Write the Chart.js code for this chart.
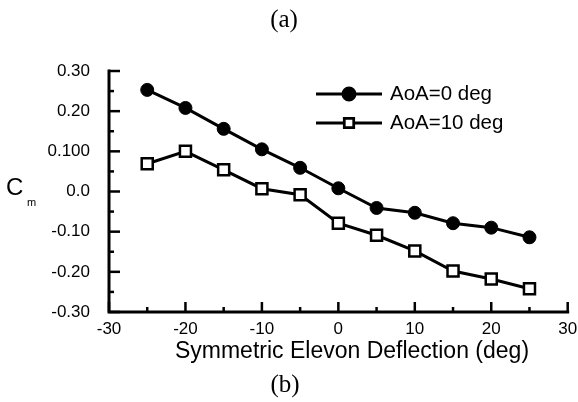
<!DOCTYPE html>
<html><head><meta charset="utf-8">
<script src="https://cdn.jsdelivr.net/npm/chart.js@4/dist/chart.umd.min.js"></script>
<style>html,body{margin:0;padding:0;background:#fff}</style>
</head><body>
<canvas id="c" width="578" height="402"></canvas>
<script>
const deflection = [-25, -20, -15, -10, -5, 0, 5, 10, 15, 20, 25];
const cmAoA0 = [0.253, 0.208, 0.156, 0.105, 0.059, 0.008, -0.041, -0.053, -0.079, -0.090, -0.114];
const cmAoA10 = [0.069, 0.100, 0.054, 0.007, -0.008, -0.079, -0.109, -0.148, -0.198, -0.218, -0.242];
const seriesNames = ['AoA=0 deg', 'AoA=10 deg'];
const xTickValues = [-30, -20, -10, 0, 10, 20, 30];
const xTickLabels = ['-30', '-20', '-10', '0', '10', '20', '30'];
const yTickValues = [0.30, 0.20, 0.10, 0.0, -0.10, -0.20, -0.30];
const yTickLabels = ['0.30', '0.20', '0.100', '0.0', '-0.10', '-0.20', '-0.30'];
const xTitle = 'Symmetric Elevon Deflection (deg)';
const topCaption = '(a)';
const bottomCaption = '(b)';

const SANS = '"Liberation Sans", Arial, sans-serif';
const SERIF = '"Liberation Serif", "Times New Roman", serif';

const decor = {
  id: 'decor',
  afterDraw(chart) {
    const ctx = chart.ctx, xs = chart.scales.x, ys = chart.scales.y;
    const a = chart.chartArea;
    ctx.save();
    ctx.strokeStyle = '#000'; ctx.fillStyle = '#000';
    ctx.lineWidth = 3; ctx.lineCap = 'square';
    ctx.beginPath();
    ctx.moveTo(a.left, a.top); ctx.lineTo(a.left, a.bottom); ctx.lineTo(a.right, a.bottom);
    ctx.stroke();
    ctx.lineCap = 'butt';
    for (let v = -30; v <= 30; v += 5) {
      const px = xs.getPixelForValue(v);
      const major = v % 10 === 0;
      ctx.lineWidth = 2.5;
      ctx.beginPath(); ctx.moveTo(px, a.bottom); ctx.lineTo(px, a.bottom - (major ? 10 : 5)); ctx.stroke();
    }
    for (let i = -6; i <= 6; i++) {
      const v = i * 0.05;
      const py = ys.getPixelForValue(v);
      const major = i % 2 === 0;
      ctx.lineWidth = 2.5;
      ctx.beginPath(); ctx.moveTo(a.left, py); ctx.lineTo(a.left + (major ? 11 : 5), py); ctx.stroke();
    }
    ctx.font = '17px ' + SANS;
    ctx.textAlign = 'center'; ctx.textBaseline = 'middle';
    xTickValues.forEach((v, i) => ctx.fillText(xTickLabels[i], xs.getPixelForValue(v), a.bottom + 17));
    ctx.textAlign = 'right';
    yTickValues.forEach((v, i) => ctx.fillText(yTickLabels[i], a.left - 19, ys.getPixelForValue(v)));
    ctx.textAlign = 'center'; ctx.textBaseline = 'alphabetic';
    ctx.font = '23px ' + SANS;
    ctx.fillText(xTitle, 352, 358);
    ctx.textAlign = 'left'; ctx.textBaseline = 'middle';
    ctx.font = '24px ' + SANS;
    ctx.fillText('C', 6, 188);
    ctx.font = '11px ' + SANS;
    ctx.fillText('m', 27, 203);
    ctx.textAlign = 'center'; ctx.textBaseline = 'alphabetic';
    ctx.font = '25px ' + SERIF;
    ctx.fillText(topCaption, 284, 27);
    ctx.fillText(bottomCaption, 285, 392);
    const rows = [94, 123];
    chart.data.datasets.forEach((ds, i) => {
      const y = rows[i];
      ctx.lineWidth = 3; ctx.strokeStyle = '#000';
      ctx.beginPath(); ctx.moveTo(316, y); ctx.lineTo(382, y); ctx.stroke();
      Chart.helpers.drawPoint(ctx, {
        pointStyle: ds.pointStyle, radius: i === 0 ? 6 : 6.5, borderWidth: ds.pointBorderWidth, rotation: 0
      }, 349, y);
      ctx.fillStyle = ds.pointBackgroundColor; ctx.fill();
      ctx.strokeStyle = '#000'; ctx.lineWidth = ds.pointBorderWidth; ctx.stroke();
      ctx.fillStyle = '#000';
      ctx.font = '20.5px ' + SANS; ctx.textAlign = 'left'; ctx.textBaseline = 'middle';
      ctx.fillText(ds.label, 390, y);
    });
    ctx.restore();
  }
};

new Chart(document.getElementById('c'), {
  type: 'line',
  data: {
    labels: deflection,
    datasets: [
      { label: seriesNames[0], data: deflection.map((x, i) => ({ x, y: cmAoA0[i] })),
        borderColor: '#000', borderWidth: 3, pointStyle: 'circle', pointRadius: 6.5,
        pointBackgroundColor: '#000', pointBorderColor: '#000', pointBorderWidth: 1, tension: 0 },
      { label: seriesNames[1], data: deflection.map((x, i) => ({ x, y: cmAoA10[i] })),
        borderColor: '#000', borderWidth: 3, pointStyle: 'rect', pointRadius: 7.8,
        pointBackgroundColor: '#fff', pointBorderColor: '#000', pointBorderWidth: 2.5, tension: 0 }
    ]
  },
  options: {
    responsive: false, animation: false, devicePixelRatio: 1,
    layout: { padding: { left: 109, right: 9, top: 71, bottom: 90 } },
    plugins: { legend: { display: false }, tooltip: { enabled: false } },
    scales: {
      x: { type: 'linear', min: -30, max: 30, display: false },
      y: { type: 'linear', min: -0.30, max: 0.30, display: false }
    }
  },
  plugins: [decor]
});
</script>
</body></html>
